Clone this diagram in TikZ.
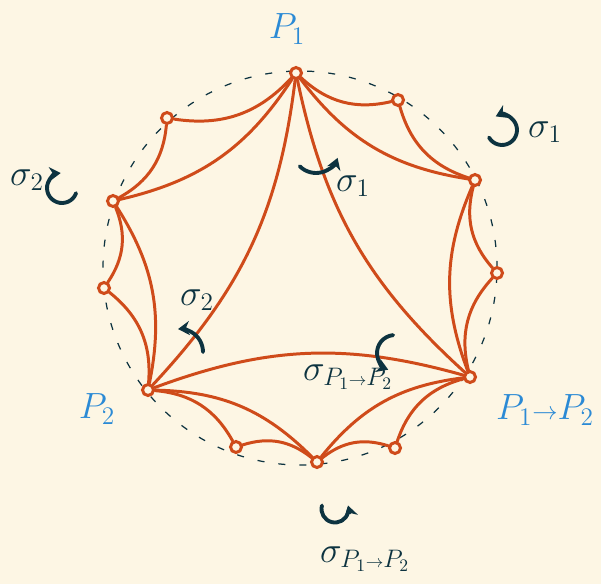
\documentclass[tikz,border=0pt]{standalone}
\usepackage{xcolor}
\usepackage{tikz}
\usetikzlibrary{arrows.meta}
\definecolor{sketchpaper}{HTML}{FDF6E4}
\definecolor{sketchorange}{HTML}{CF4B1A}
\definecolor{sketchblue}{HTML}{2B8AD5}
\definecolor{sketchink}{HTML}{0D3340}
\tikzset{
  vtx/.style={circle, draw=sketchorange, line width=1.7pt, fill=sketchpaper, inner sep=0pt, minimum size=0.22cm},
  chord/.style={draw=sketchorange, line width=1.7pt, line cap=round},
  guide/.style={draw=sketchink, line width=0.7pt, dash pattern=on 4pt off 8pt},
  turn/.style={draw=sketchink, line width=2.2pt, line cap=round, -{Stealth[length=6.5pt, width=8pt]}},
  ptlabel/.style={text=sketchblue, font=\fontsize{22}{24}\selectfont},
  siglabel/.style={text=sketchink, font=\fontsize{20}{22}\selectfont},
}
\begin{document}
\begin{tikzpicture}
    \fill[sketchpaper] (0,0) rectangle (12.02,11.68);
    \useasboundingbox (0,0) rectangle (12.02,11.68);

    % dashed boundary circle
    \draw[guide] (6.0,6.32) circle (3.94);

    % marked points on the circle
    \node[vtx] (P1) at (5.92,10.22) {};
    \node[vtx] (d)  at (7.96,9.68) {};
    \node[vtx] (e)  at (9.50,8.08) {};
    \node[vtx] (f)  at (9.94,6.22) {};
    \node[vtx] (Q)  at (9.40,4.14) {};
    \node[vtx] (i)  at (7.90,2.72) {};
    \node[vtx] (h)  at (6.34,2.44) {};
    \node[vtx] (g)  at (4.72,2.74) {};
    \node[vtx] (P2) at (2.96,3.88) {};
    \node[vtx] (c)  at (2.08,5.92) {};
    \node[vtx] (b)  at (2.26,7.66) {};
    \node[vtx] (a)  at (3.34,9.32) {};

    % outer arcs
    \draw[chord] (f) to[bend left=28] (e);
    \draw[chord] (e) to[bend left=28] (d);
    \draw[chord] (d) to[bend left=28] (P1);
    \draw[chord] (P1) to[bend left=28] (a);
    \draw[chord] (a) to[bend left=28] (b);
    \draw[chord] (b) to[bend left=28] (c);
    \draw[chord] (c) to[bend left=28] (P2);
    \draw[chord] (P2) to[bend left=28] (g);
    \draw[chord] (g) to[bend left=28] (h);
    \draw[chord] (h) to[bend left=28] (i);
    \draw[chord] (i) to[bend left=28] (Q);
    \draw[chord] (Q) to[bend left=28] (f);

    % diagonals of the small triangles
    \draw[chord] (e) to[bend left=22] (P1);
    \draw[chord] (P1) to[bend left=22] (b);
    \draw[chord] (b) to[bend left=22] (P2);
    \draw[chord] (P2) to[bend left=22] (h);
    \draw[chord] (h) to[bend left=22] (Q);
    \draw[chord] (Q) to[bend left=22] (e);

    % big triangle
    \draw[chord] (Q) to[bend left=18] (P1);
    \draw[chord] (P1) to[bend left=18] (P2);
    \draw[chord] (P2) to[bend left=18] (Q);

    % point labels
    \node[ptlabel] (labP1) at (5.74,11.10) {$P_1$};
    \node[ptlabel] (labP2) at (1.94,3.50) {$P_2$};
    \node[ptlabel] (labQ) at (10.90,3.48) {$P_1{\scriptstyle\to}P_2$};

    % rotations
    \draw[turn] ([shift={(-20:0.3)}]1.24,7.92) arc[start angle=-20, end angle=-265, radius=0.3];
    \node[siglabel] (sigA) at (0.54,8.08) {$\sigma_2$};

    \draw[turn] ([shift={(-150:0.3)}]10.04,9.08) arc[start angle=-150, end angle=115, radius=0.3];
    \node[siglabel] (sigB) at (10.90,9.04) {$\sigma_1$};

    \draw[turn] ([shift={(-135:0.46)}]6.32,8.68) arc[start angle=-135, end angle=-20, radius=0.46];
    \node[siglabel] (sigC) at (7.06,7.96) {$\sigma_1$};

    \draw[turn] ([shift={(0:0.46)}]3.60,4.64) arc[start angle=0, end angle=95, radius=0.46];
    \node[siglabel] (sigD) at (3.94,5.68) {$\sigma_2$};

    \draw[turn] ([shift={(96:0.36)}]7.90,4.62) arc[start angle=96, end angle=248, radius=0.36];
    \node[siglabel] (sigE) at (6.96,4.14) {$\sigma_{P_1{\scriptscriptstyle\to}P_2}$};

    \draw[turn] ([shift={(165:0.27)}]6.70,1.50) arc[start angle=165, end angle=375, radius=0.27];
    \node[siglabel] (sigF) at (7.30,0.50) {$\sigma_{P_1{\scriptscriptstyle\to}P_2}$};
\end{tikzpicture}
\end{document}
